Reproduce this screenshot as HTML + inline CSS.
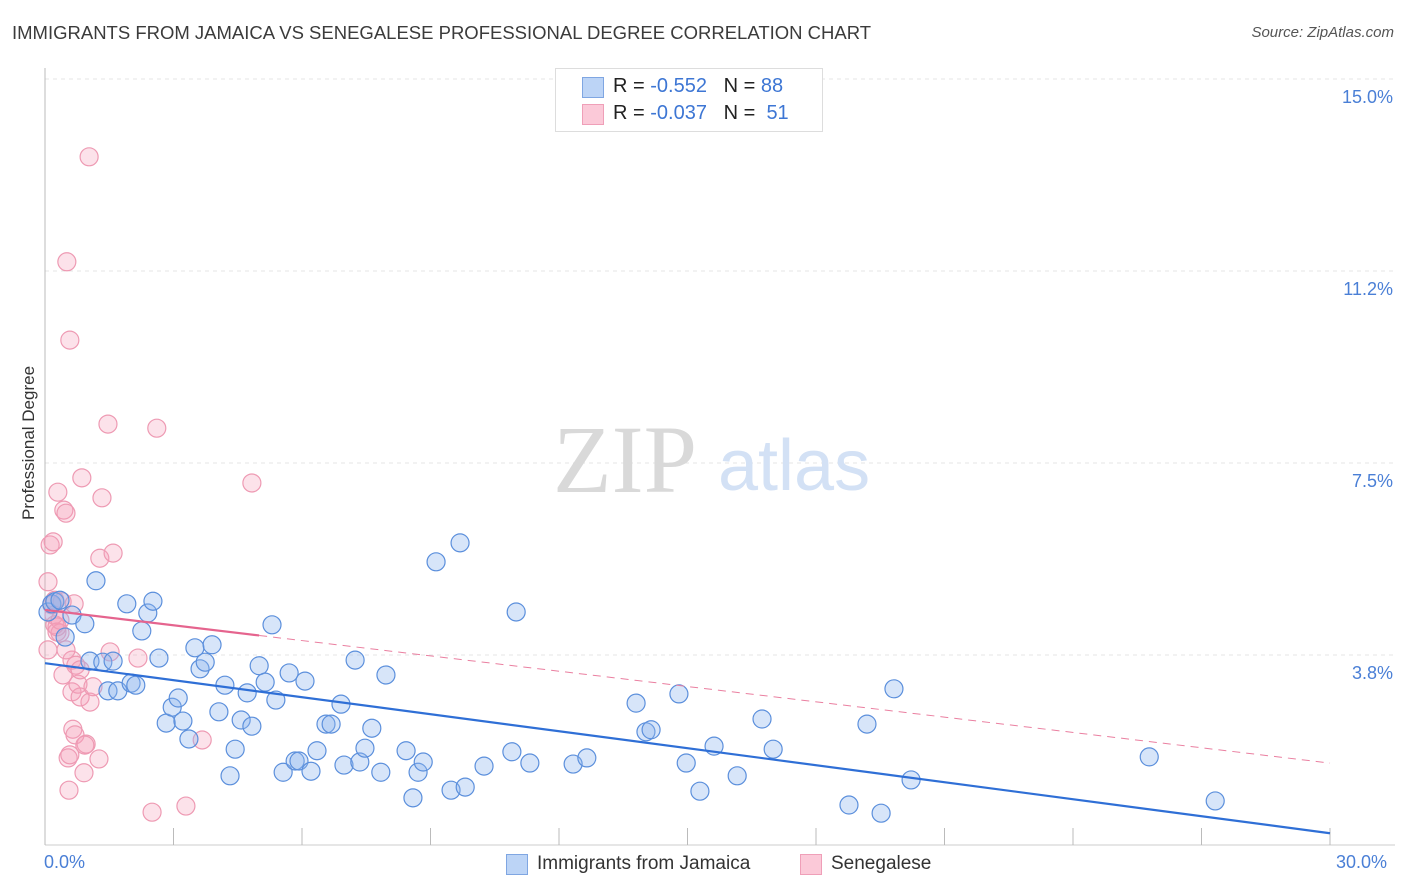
<!DOCTYPE html>
<html><head><meta charset="utf-8">
<style>
body{margin:0;background:#fff;font-family:"Liberation Sans",sans-serif;}
#wrap{position:relative;width:1406px;height:892px;overflow:hidden;}
.t{position:absolute;white-space:nowrap;}
</style></head>
<body>
<div id="wrap">
<div class="t" style="left:12px;top:22px;font-size:18.5px;color:#3b3b3b;">IMMIGRANTS FROM JAMAICA VS SENEGALESE PROFESSIONAL DEGREE CORRELATION CHART</div>
<div class="t" style="right:12px;top:24px;font-size:15px;color:#555;font-style:italic;">Source: ZipAtlas.com</div>
<div class="t" style="left:-36px;top:445px;font-size:17px;color:#333;transform:rotate(-90deg);width:130px;text-align:center;">Professional Degree</div>
<svg id="plot" width="1406" height="892" style="position:absolute;left:0;top:0"></svg>
<div class="t" style="left:44px;top:852px;font-size:18px;color:#4a7fd6;">0.0%</div>
<div class="t" style="left:1336px;top:852px;font-size:18px;color:#4a7fd6;">30.0%</div>
<div style="position:absolute;left:555px;top:68px;width:266px;height:62px;border:1px solid #ddd;background:#fff;">
 <div style="position:absolute;left:26px;top:8px;width:20px;height:19px;background:#bcd4f6;border:1px solid #7fa6e2;"></div>
 <div class="t" style="left:57px;top:6px;font-size:20px;color:#222;">R = <span style="color:#3d76d4">-0.552</span> &nbsp; N = <span style="color:#3d76d4">88</span></div>
 <div style="position:absolute;left:26px;top:35px;width:20px;height:19px;background:#fbc9d8;border:1px solid #ef9fb8;"></div>
 <div class="t" style="left:57px;top:33px;font-size:20px;color:#222;">R = <span style="color:#3d76d4">-0.037</span> &nbsp; N = &nbsp;<span style="color:#3d76d4">51</span></div>
</div>
<div style="position:absolute;left:506px;top:854px;width:20px;height:19px;background:#bcd4f6;border:1px solid #7fa6e2;"></div>
<div class="t" style="left:537px;top:853px;font-size:19px;color:#333;">Immigrants from Jamaica</div>
<div style="position:absolute;left:800px;top:854px;width:20px;height:19px;background:#fbc9d8;border:1px solid #ef9fb8;"></div>
<div class="t" style="left:831px;top:853px;font-size:19px;color:#333;">Senegalese</div>
</div>
<script>
const yTicks=[3.8,7.5,11.2,15.0];
const yTickVals=[3.75,7.5,11.25,15.0];
const blueX=[0.07,0.16,0.23,0.35,0.47,0.63,0.93,1.05,1.19,1.35,1.47,1.59,1.70,1.91,2.01,2.12,2.26,2.40,2.52,2.66,2.83,2.97,3.11,3.22,3.36,3.50,3.62,3.74,3.90,4.06,4.20,4.32,4.44,4.58,4.72,4.83,5.00,5.14,5.30,5.39,5.56,5.70,5.84,5.93,6.07,6.21,6.35,6.56,6.68,6.91,6.98,7.24,7.35,7.47,7.63,7.84,7.96,8.43,8.59,8.71,8.83,9.13,9.48,9.69,9.81,10.25,10.90,11.00,11.32,12.33,12.65,13.80,14.03,14.15,14.80,14.97,15.29,15.62,16.16,16.74,17.00,18.77,19.19,19.52,19.82,20.22,25.78,27.32];
const blueY=[4.59,4.75,4.79,4.82,4.10,4.53,4.36,3.63,5.20,3.61,3.05,3.63,3.05,4.75,3.20,3.16,4.22,4.57,4.80,3.69,2.42,2.73,2.91,2.46,2.11,3.89,3.48,3.61,3.95,2.64,3.16,1.39,1.91,2.48,3.01,2.36,3.54,3.22,4.34,2.87,1.46,3.40,1.68,1.68,3.24,1.48,1.88,2.40,2.40,2.79,1.60,3.65,1.66,1.93,2.32,1.46,3.36,1.88,0.96,1.46,1.66,5.57,1.11,5.94,1.17,1.58,1.86,4.59,1.64,1.62,1.74,2.81,2.25,2.29,2.99,1.64,1.09,1.97,1.39,2.50,1.91,0.82,2.40,0.66,3.09,1.31,1.76,0.90];
const pinkX=[0.07,0.12,0.16,0.21,0.23,0.28,0.30,0.19,0.35,0.40,0.44,0.49,0.51,0.58,0.42,0.63,0.65,0.70,0.54,0.58,0.63,0.72,0.77,0.68,0.82,0.86,0.91,0.96,1.03,1.05,1.12,1.26,1.28,1.33,1.47,1.52,1.59,2.17,2.50,2.61,3.29,3.67,4.83,0.07,0.35,0.28,0.56,0.82,0.49,0.93,0.23];
const pinkY=[5.18,5.90,4.73,4.53,4.34,4.20,6.93,5.96,4.18,4.79,6.58,6.52,11.43,9.90,3.36,3.03,2.30,2.19,1.74,1.80,3.65,3.55,3.18,4.75,2.93,7.21,1.45,2.01,13.48,2.83,3.13,1.72,5.64,6.82,8.26,3.81,5.74,3.69,0.68,8.18,0.80,2.09,7.11,3.85,4.43,4.30,1.11,3.46,3.85,1.99,4.82];
const blueTrend=[3.59,-0.1107];
const pinkTrend=[4.63,-0.0997];
const pinkSolidEnd=5.0;
const xMax=30;
const X=v=>45+v*(1330-45)/30;
const Y=v=>847-v*51.2;
const svg=document.getElementById('plot');
const NS='http://www.w3.org/2000/svg';
function mk(tag,attrs){const e=document.createElementNS(NS,tag);for(const k in attrs)e.setAttribute(k,attrs[k]);svg.appendChild(e);return e;}
yTickVals.forEach((v,i)=>{
 const g=mk('line',{x1:45,x2:1395,y1:Y(v),y2:Y(v),stroke:'#e4e4e4','stroke-dasharray':'4,4'});
 
 
 const t=mk('text',{x:1393,y:Y(v)+24,'text-anchor':'end','font-size':18,fill:'#4a7fd6','font-family':'Liberation Sans, sans-serif'});
 t.textContent=yTicks[i].toFixed(1)+'%';
 
 
});
const ax=mk('line',{x1:45,x2:45,y1:68,y2:845,stroke:'#bbb'});


const bx=mk('line',{x1:45,x2:1395,y1:845,y2:845,stroke:'#ccc'});


for(let i=0;i<=10;i++){const tk=mk('line',{x1:X(i*3),x2:X(i*3),y1:828,y2:845,stroke:'#bbb'});
 
 }
const w1=mk('text',{x:553,y:492,'font-size':96,fill:'#d9d9d9','font-family':'Liberation Serif, serif'});w1.textContent='ZIP';


const w2=mk('text',{x:718,y:490,'font-size':72,fill:'#d3e1f5','font-family':'Liberation Sans, sans-serif'});w2.textContent='atlas';


pinkX.forEach((x,i)=>{const c=mk('circle',{cx:X(x),cy:Y(pinkY[i]),r:9,fill:'rgba(246,160,186,0.3)',stroke:'#ee9ab3','stroke-width':1.2});
 
 });
blueX.forEach((x,i)=>{const c=mk('circle',{cx:X(x),cy:Y(blueY[i]),r:9,fill:'rgba(140,180,238,0.35)',stroke:'#5b8fdc','stroke-width':1.2});
 
 });
const bl=mk('line',{x1:X(0),y1:Y(blueTrend[0]),x2:X(xMax),y2:Y(blueTrend[0]+blueTrend[1]*xMax),stroke:'#2f6fd6','stroke-width':2.2});


const pd=mk('line',{x1:X(pinkSolidEnd),y1:Y(pinkTrend[0]+pinkTrend[1]*pinkSolidEnd),x2:X(xMax),y2:Y(pinkTrend[0]+pinkTrend[1]*xMax),stroke:'#ea7fa0','stroke-width':1,'stroke-dasharray':'8,6'});


const ps=mk('line',{x1:X(0),y1:Y(pinkTrend[0]),x2:X(pinkSolidEnd),y2:Y(pinkTrend[0]+pinkTrend[1]*pinkSolidEnd),stroke:'#e5648e','stroke-width':2.2});


</script>
</body></html>
